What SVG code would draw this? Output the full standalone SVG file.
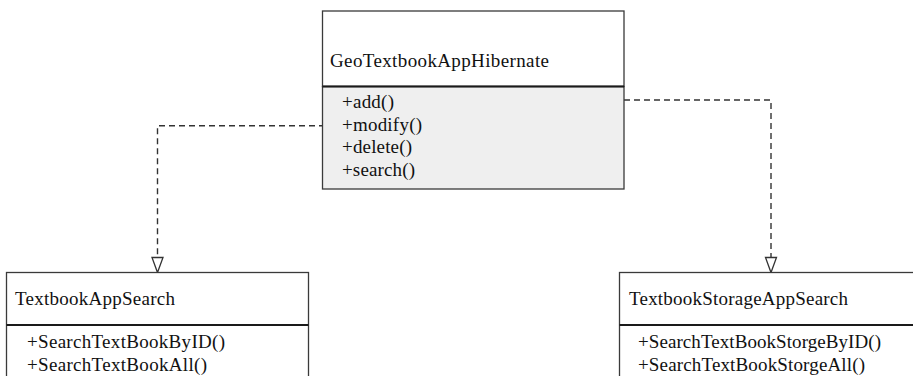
<svg xmlns="http://www.w3.org/2000/svg" width="913" height="376" viewBox="0 0 913 376">
  <style>
    .box { fill: #ffffff; stroke: #3a3a3a; stroke-width: 1.3; }
    .ops { fill: #efefef; stroke: #3a3a3a; stroke-width: 1.3; }
    .div { stroke: #1a1a1a; stroke-width: 1.8; }
    .t { font-family: "Liberation Serif", "Times New Roman", serif; font-size: 19px; fill: #111111; }
    .dep { fill: none; stroke: #333333; stroke-width: 1.4; stroke-dasharray: 6 4; }
    .head { fill: #ffffff; stroke: #333333; stroke-width: 1.3; }
  </style>
  <rect width="913" height="376" fill="#ffffff"/>

  <g id="connectors">
    <!-- dependency to TextbookAppSearch -->
    <polyline class="dep" points="325,125.7 157.5,125.7 157.5,257"/>
    <polygon class="head" points="152,257.5 163,257.5 157.5,272.5"/>
    <!-- dependency to TextbookStorageAppSearch -->
    <polyline class="dep" points="624,100 771,100 771,257"/>
    <polygon class="head" points="765.5,257.5 776.5,257.5 771,272.5"/>
  </g>

  <g id="GeoTextbookAppHibernate">
    <rect class="box" x="322.5" y="11" width="301.5" height="75.5"/>
    <rect class="ops" x="322.5" y="86.5" width="301.5" height="102.5"/>
    <line class="div" x1="322.5" y1="86.5" x2="624" y2="86.5"/>
    <text class="t" x="330" y="67" textLength="219" lengthAdjust="spacing">GeoTextbookAppHibernate</text>
    <text class="t" x="342" y="108" textLength="52" lengthAdjust="spacing">+add()</text>
    <text class="t" x="342" y="130.5" textLength="80" lengthAdjust="spacing">+modify()</text>
    <text class="t" x="342" y="153" textLength="70" lengthAdjust="spacing">+delete()</text>
    <text class="t" x="342" y="175.5" textLength="73" lengthAdjust="spacing">+search()</text>
  </g>

  <g id="TextbookAppSearch">
    <rect class="box" x="6.5" y="272.5" width="302" height="115"/>
    <line class="div" x1="6.5" y1="325" x2="308.5" y2="325"/>
    <text class="t" x="15" y="305" textLength="160" lengthAdjust="spacing">TextbookAppSearch</text>
    <text class="t" x="27" y="348" textLength="198" lengthAdjust="spacing">+SearchTextBookByID()</text>
    <text class="t" x="27" y="370.5" textLength="180" lengthAdjust="spacing">+SearchTextBookAll()</text>
  </g>

  <g id="TextbookStorageAppSearch">
    <rect class="box" x="619.5" y="272.5" width="310" height="115"/>
    <line class="div" x1="619.5" y1="325" x2="913" y2="325"/>
    <text class="t" x="629" y="305" textLength="219" lengthAdjust="spacing">TextbookStorageAppSearch</text>
    <text class="t" x="638" y="348" textLength="243" lengthAdjust="spacing">+SearchTextBookStorgeByID()</text>
    <text class="t" x="638" y="370.5" textLength="227" lengthAdjust="spacing">+SearchTextBookStorgeAll()</text>
  </g>
</svg>
